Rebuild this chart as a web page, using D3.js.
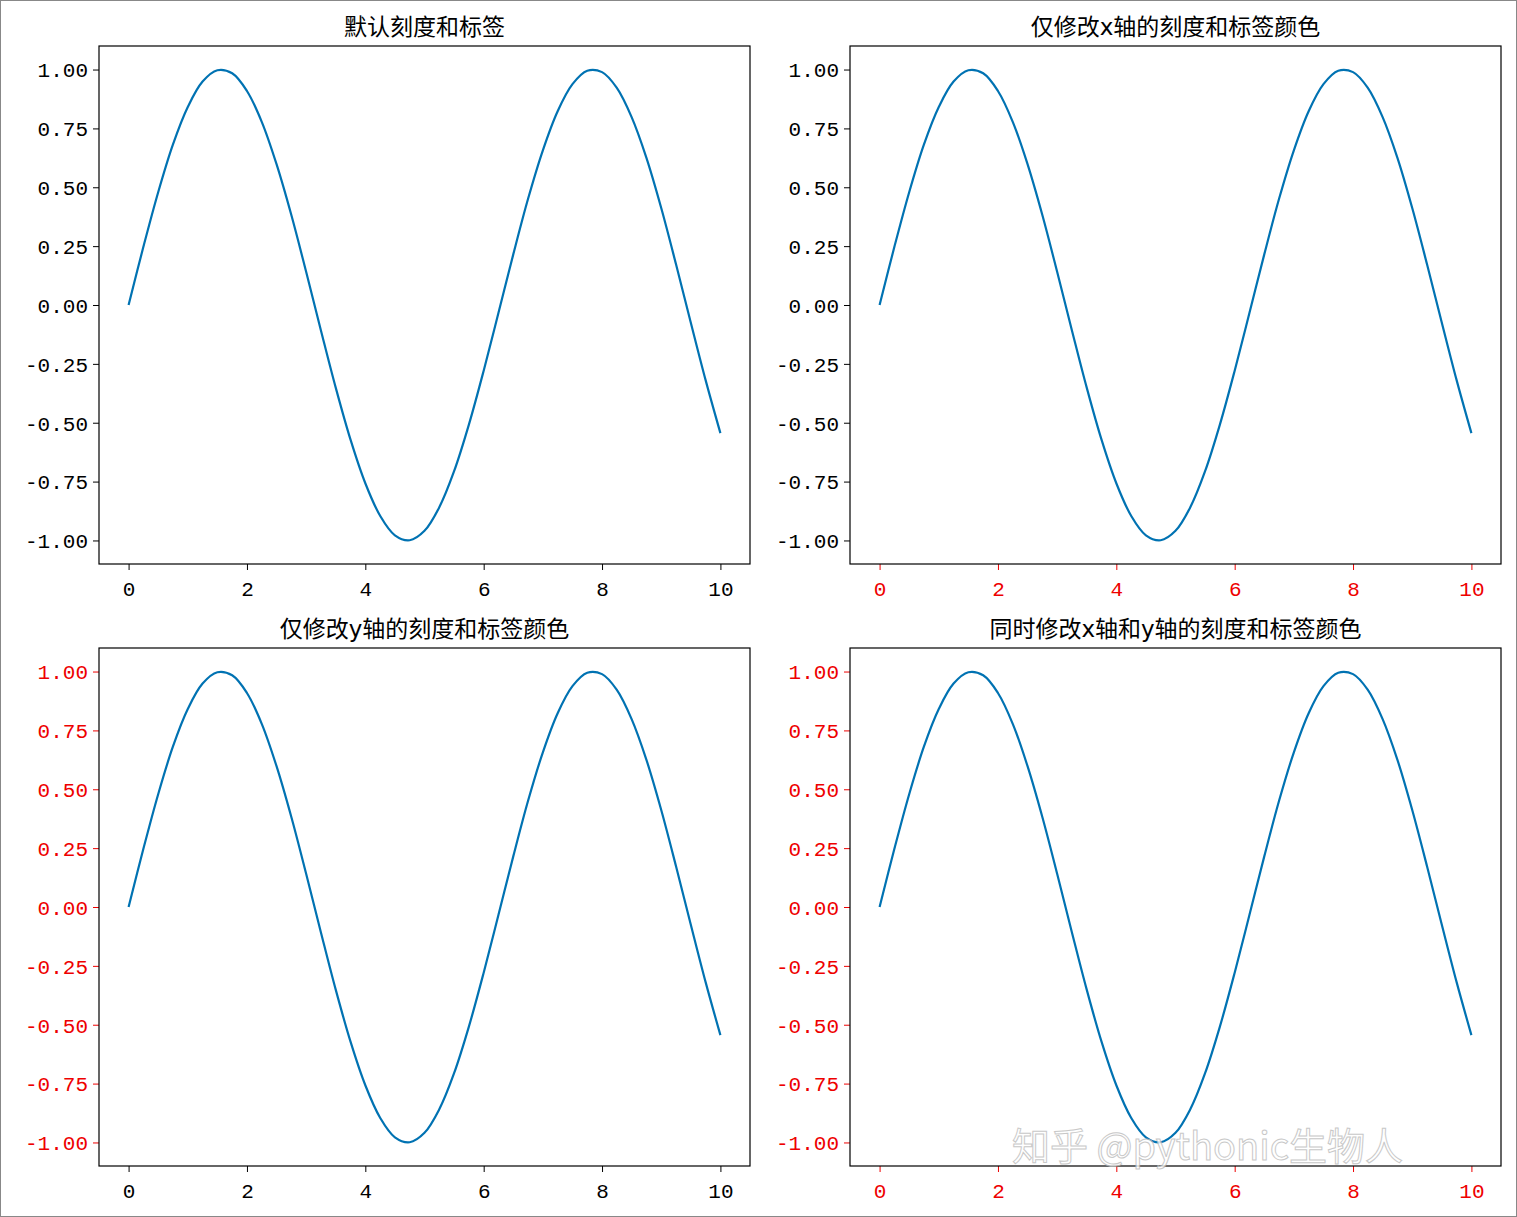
<!DOCTYPE html>
<html><head><meta charset="utf-8">
<script src="https://cdn.jsdelivr.net/npm/d3@7"></script>
<style>body{margin:0;background:#fff}svg{display:block}</style>
</head><body>
<script>
const xs = [0,0.25,0.5,0.75,1,1.25,1.5,1.75,2,2.25,2.5,2.75,3,3.25,3.5,3.75,4,4.25,4.5,4.75,5,5.25,5.5,5.75,6,6.25,6.5,6.75,7,7.25,7.5,7.75,8,8.25,8.5,8.75,9,9.25,9.5,9.75,10];
const ys = [0,0.247,0.479,0.682,0.841,0.949,0.997,0.984,0.909,0.778,0.598,0.382,0.141,-0.108,-0.351,-0.572,-0.757,-0.895,-0.978,-0.999,-0.959,-0.859,-0.706,-0.508,-0.279,-0.033,0.215,0.451,0.657,0.823,0.938,0.995,0.989,0.922,0.798,0.625,0.412,0.173,-0.075,-0.319,-0.544];
const xTicks = [0,2,4,6,8,10];
const yTicks = [1,0.75,0.5,0.25,0,-0.25,-0.5,-0.75,-1];
const titles = ["默认刻度和标签","仅修改x轴的刻度和标签颜色","仅修改y轴的刻度和标签颜色","同时修改x轴和y轴的刻度和标签颜色"];
const redX = [false,true,false,true];
const redY = [false,false,true,true];

const W=1517,H=1217;
const svg=d3.select("body").append("svg").attr("width",W).attr("height",H);
svg.append("rect").attr("x",0.5).attr("y",0.5).attr("width",W-1).attr("height",H-1).attr("fill","#fff").attr("stroke","#888");
const panels=[[99,46],[850,46],[99,648],[850,648]];
const pw=651,ph=518;
panels.forEach(([px,py],i)=>{
  const x=d3.scaleLinear().domain([-0.5,10.5]).range([px,px+pw]);
  const y=d3.scaleLinear().domain([-1.1,1.1]).range([py+ph,py]);
  const g=svg.append("g");
  const xc=redX[i]?"#e00":"#000", yc=redY[i]?"#e00":"#000";
  const ax=g.append("g").attr("transform",`translate(0,${py+ph})`).call(d3.axisBottom(x).tickValues(xTicks).tickSize(6).tickPadding(6).tickFormat(d3.format("d")));
  ax.select(".domain").remove();
  ax.selectAll("line").attr("stroke",xc);
  ax.selectAll("text").attr("fill",xc).attr("font-family","Liberation Mono").attr("font-size",21).attr("dy","0.95em");
  const ay=g.append("g").attr("transform",`translate(${px},0)`).call(d3.axisLeft(y).tickValues(yTicks).tickSize(6).tickPadding(5).tickFormat(d=>d3.format(".2f")(d).replace("−","-")));
  ay.select(".domain").remove();
  ay.selectAll("line").attr("stroke",yc);
  ay.selectAll("text").attr("fill",yc).attr("font-family","Liberation Mono").attr("font-size",21).attr("dy","0.35em");
  g.append("path").datum(xs.map((v,k)=>[v,ys[k]]))
    .attr("d",d3.line().x(d=>x(d[0])).y(d=>y(d[1])).curve(d3.curveCatmullRom))
    .attr("fill","none").attr("stroke","#0072B2").attr("stroke-width",2.2);
  g.append("rect").attr("x",px).attr("y",py).attr("width",pw).attr("height",ph).attr("fill","none").attr("stroke","#000").attr("stroke-width",1.2);
  g.append("text").attr("x",px+pw/2).attr("y",py-11).attr("text-anchor","middle")
    .attr("font-family","DejaVu Sans, Noto Sans CJK SC").attr("font-size",23).text(titles[i]);
});
svg.append("text").attr("x",1012).attr("y",1160).attr("font-family","Noto Sans CJK SC").attr("font-size",38)
  .attr("fill","#fff").attr("stroke","#bbb").attr("stroke-width",1).attr("opacity",0.8).text("知乎 @pythonic生物人");
</script>
</body></html>
